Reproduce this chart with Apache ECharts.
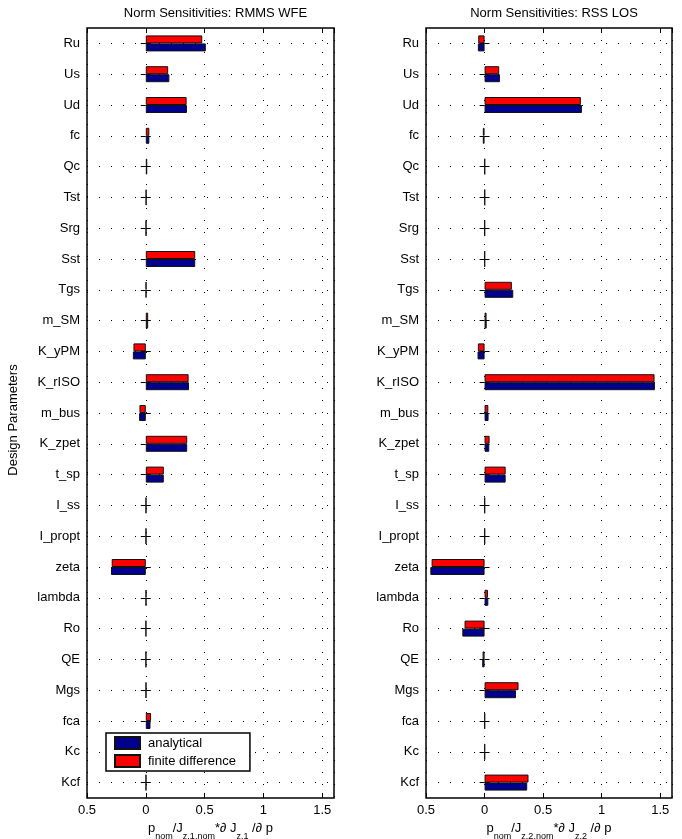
<!DOCTYPE html>
<html>
<head>
<meta charset="utf-8">
<script src="https://cdn.jsdelivr.net/npm/echarts@6/dist/echarts.min.js"></script>
<style>
  html, body { margin: 0; padding: 0; background: #fff; }
  #chart { width: 682px; height: 839px; }
</style>
</head>
<body>
<div id="chart"></div>
<script>
// Design parameters, listed top to bottom
const categories = ['Ru', 'Us', 'Ud', 'fc', 'Qc', 'Tst', 'Srg', 'Sst', 'Tgs', 'm_SM', 'K_yPM', 'K_rISO',
  'm_bus', 'K_zpet', 't_sp', 'I_ss', 'I_propt', 'zeta', 'lambda', 'Ro', 'QE', 'Mgs', 'fca', 'Kc', 'Kcf'];

// Normalized sensitivities of RMMS WFE
const wfeAnalytical = [0.51, 0.20, 0.35, 0.03, 0.012, 0.005, 0.004, 0.42, 0.004, 0.02, -0.11, 0.367,
  -0.057, 0.352, 0.153, 0.003, 0.003, -0.296, 0.003, 0.002, 0.002, 0.003, 0.04, 0.002, 0.003];
const wfeFiniteDiff = [0.48, 0.19, 0.347, 0.03, 0.012, 0.005, 0.004, 0.42, 0.004, 0.02, -0.105, 0.364,
  -0.054, 0.352, 0.153, 0.003, 0.003, -0.29, 0.003, 0.002, 0.002, 0.003, 0.045, 0.002, 0.003];

// Normalized sensitivities of RSS LOS
const losAnalytical = [-0.057, 0.131, 0.831, -0.015, 0.003, 0.003, 0.002, 0.002, 0.245, 0.018, -0.06, 1.454,
  0.034, 0.04, 0.18, 0.002, 0.002, -0.463, 0.032, -0.19, -0.02, 0.268, 0.002, 0.002, 0.364];
const losFiniteDiff = [-0.054, 0.125, 0.822, -0.015, 0.003, 0.003, 0.002, 0.002, 0.233, 0.017, -0.057, 1.451,
  0.032, 0.043, 0.18, 0.002, 0.002, -0.452, 0.029, -0.171, -0.017, 0.29, 0.002, 0.002, 0.375];

// x-axis ticks and their printed labels
const xTickValues = [-0.5, 0, 0.5, 1, 1.5];
const xTickLabels = ['0.5', '0', '0.5', '1', '1.5'];

const seriesNames = ['analytical', 'finite difference'];
const panelTitles = ['Norm Sensitivities: RMMS WFE', 'Norm Sensitivities: RSS LOS'];

const FONT = 'Liberation Sans, Arial, Helvetica, sans-serif';
const BLUE = '#00008c';
const RED = '#ff0000';

const grids = [
  { left: 87, top: 28, width: 247, height: 770 },
  { left: 426, top: 28, width: 246, height: 770 }
];

function tickLabel(v) {
  for (let i = 0; i < xTickValues.length; i++) {
    if (Math.abs(v - xTickValues[i]) < 1e-9) return xTickLabels[i];
  }
  return '';
}

const dotted = { color: '#000', width: 1, type: [1, 11] };

function xAxes(g, sub) {
  return [
    {
      type: 'value', gridIndex: g, position: 'bottom', min: -0.5, max: 1.6, interval: 0.5,
      axisLine: { show: false },
      axisTick: { show: true, inside: true, length: 5, lineStyle: { color: '#000', width: 1 } },
      axisLabel: { formatter: tickLabel, color: '#000', fontSize: 13, fontFamily: FONT, margin: 6, showMaxLabel: false },
      splitLine: { show: true, lineStyle: dotted },
      name: '{m|p}{s|nom}{m|/J}{s|' + sub + ',nom}{m|*∂ J}{s|' + sub + '}{m| /∂ p}',
      nameLocation: 'middle', nameGap: 20,
      nameTextStyle: {
        color: '#000', fontFamily: FONT, verticalAlign: 'top',
        rich: {
          m: { fontSize: 13, fontFamily: FONT, color: '#000', verticalAlign: 'top', lineHeight: 14 },
          s: { fontSize: 9, fontFamily: FONT, color: '#000', verticalAlign: 'bottom', lineHeight: 19 }
        }
      }
    },
    {
      type: 'value', gridIndex: g, position: 'top', min: -0.5, max: 1.6, interval: 0.5,
      axisLine: { show: false },
      axisTick: { show: true, inside: true, length: 5, lineStyle: { color: '#000', width: 1 } },
      axisLabel: { show: false },
      splitLine: { show: false }
    }
  ];
}

function yAxes(g) {
  return [
    {
      type: 'category', gridIndex: g, position: 'left', inverse: true, data: categories,
      axisLine: { show: false },
      axisTick: { show: true, inside: true, alignWithLabel: true, length: 5, lineStyle: { color: '#000', width: 1 } },
      axisLabel: { color: '#000', fontSize: 13, fontFamily: FONT, margin: 7 },
      splitLine: { show: true, alignWithLabel: true, lineStyle: dotted }
    },
    {
      type: 'category', gridIndex: g, position: 'right', inverse: true, data: categories,
      axisLine: { show: false },
      axisTick: { show: true, inside: true, alignWithLabel: true, length: 5, lineStyle: { color: '#000', width: 1 } },
      axisLabel: { show: false },
      splitLine: { show: false }
    }
  ];
}

function barSeries(name, data, color, xi, yi) {
  return {
    name: name, type: 'bar', xAxisIndex: xi, yAxisIndex: yi, data: data,
    barWidth: 8, barGap: '0%',
    itemStyle: { color: color, borderColor: '#111', borderWidth: 1 },
    emphasis: { disabled: true },
    animation: false
  };
}

const option = {
  backgroundColor: '#fff',
  animation: false,
  title: panelTitles.map((t, i) => ({
    text: t,
    left: grids[i].left + grids[i].width / 2,
    top: 2,
    textAlign: 'center',
    textStyle: { fontSize: 13, fontWeight: 'normal', color: '#000', fontFamily: FONT }
  })),
  grid: grids.map(g => Object.assign({
    show: true, borderColor: '#000', borderWidth: 1.5, backgroundColor: '#fff',
    containLabel: false, outerBoundsMode: 'none'
  }, g)),
  xAxis: [].concat(xAxes(0, 'z,1'), xAxes(1, 'z,2')),
  yAxis: [].concat(yAxes(0), yAxes(1)),
  legend: {
    data: seriesNames,
    orient: 'vertical',
    left: 106, top: 733,
    icon: 'rect',
    itemWidth: 25, itemHeight: 12, itemGap: 4,
    padding: [3, 14, 3, 8],
    backgroundColor: '#fff',
    borderColor: '#000', borderWidth: 1.5, borderRadius: 0,
    textStyle: { color: '#000', fontSize: 13, fontFamily: FONT, padding: [0, 0, 0, 3] },
    selectedMode: false
  },
  graphic: [{
    type: 'text', x: 13, y: 420, rotation: Math.PI / 2,
    style: { text: 'Design Parameters', fontSize: 13, fontFamily: FONT, fill: '#000', align: 'center', verticalAlign: 'middle' }
  }],
  series: [
    barSeries(seriesNames[1], wfeFiniteDiff, RED, 0, 0),
    barSeries(seriesNames[0], wfeAnalytical, BLUE, 0, 0),
    barSeries(seriesNames[1], losFiniteDiff, RED, 2, 2),
    barSeries(seriesNames[0], losAnalytical, BLUE, 2, 2)
  ]
};

const chart = echarts.init(document.getElementById('chart'), null, { renderer: 'canvas' });
chart.setOption(option);
</script>
</body>
</html>
